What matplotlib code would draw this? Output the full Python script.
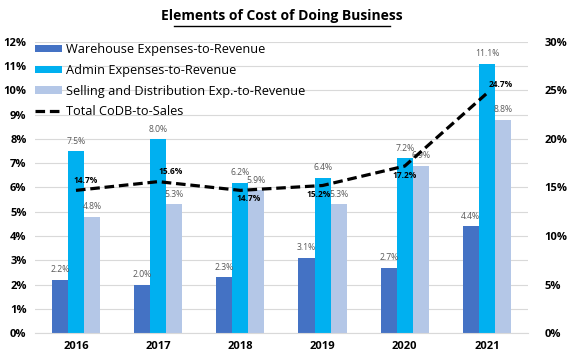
import numpy as np
import matplotlib
matplotlib.use('Agg')
import matplotlib.pyplot as plt
from matplotlib.ticker import FuncFormatter

plt.rcParams['font.family'] = ['Open Sans', 'DejaVu Sans']

# data
years = ['2016', '2017', '2018', '2019', '2020', '2021']
warehouse = [2.2, 2.0, 2.3, 3.1, 2.7, 4.4]
admin = [7.5, 8.0, 6.2, 6.4, 7.2, 11.1]
selling = [4.8, 5.3, 5.9, 5.3, 6.9, 8.8]
total = [14.7, 15.6, 14.7, 15.2, 17.2, 24.7]

fig = plt.figure(figsize=(5.72, 3.64), dpi=100)
ax = fig.add_axes([0.061, 0.085, 0.862, 0.80])
ax2 = ax.twinx()

x = np.arange(len(years))
w = 0.195
series = [(warehouse, '#4472C4', 'Warehouse Expenses-to-Revenue'),
          (admin, '#00B0F0', 'Admin Expenses-to-Revenue'),
          (selling, '#B4C7E7', 'Selling and Distribution Exp.-to-Revenue')]
handles = []
for i, (vals, col, lab) in enumerate(series):
    xs = x + (i - 1) * w
    handles.append(ax.bar(xs, vals, w, color=col, label=lab, zorder=2))
    for xx, v in zip(xs, vals):
        ax.text(xx, v + 0.22, f'{v:.1f}%', ha='center', va='bottom',
                fontsize=6.2, color='#595959')

ln, = ax2.plot(x, total, color='black', ls='--', lw=2.3, dashes=(3, 1.5), zorder=3,
               label='Total CoDB-to-Sales')
handles.append(ln)

# line label offsets (points)
offs = [(7, 7), (9, 7), (6, -5.5), (-3, -6.5), (0, -7), (10, 6)]
for xx, v, (dx, dy) in zip(x, total, offs):
    ax2.annotate(f'{v:.1f}%', (xx, v), xytext=(dx, dy), textcoords='offset points',
                 ha='center', va='center', fontsize=6, fontweight='bold', color='black',
                 zorder=5)

ax.set_xlim(-0.5, len(years) - 0.5)
ax.set_ylim(0, 12)
ax.set_yticks(np.arange(0, 13, 1))
ax.yaxis.set_major_formatter(FuncFormatter(lambda v, p: f'{v:.0f}%'))
ax2.set_ylim(0, 30)
ax2.set_yticks(np.arange(0, 31, 5))
ax2.yaxis.set_major_formatter(FuncFormatter(lambda v, p: f'{v:.0f}%'))
ax.set_xticks(x)
ax.set_xticklabels(years)

ax.grid(axis='y', color='#D9D9D9', lw=0.8, zorder=0)
ax.set_axisbelow(True)
for a in (ax, ax2):
    for s in a.spines.values():
        s.set_visible(False)
    a.tick_params(length=0, labelsize=8)
    for t in a.get_xticklabels() + a.get_yticklabels():
        t.set_fontweight('bold')
ax.spines['bottom'].set_visible(True)
ax.spines['bottom'].set_color('#D9D9D9')
ax.tick_params(axis='x', pad=6)
ax.tick_params(axis='y', pad=6)
ax2.tick_params(axis='y', pad=12)

ax2.legend(handles, [h.get_label() for h in handles], loc='upper left',
           bbox_to_anchor=(0.0, 0.995), frameon=False, fontsize=9.2,
           handlelength=2.1, handleheight=0.5, labelspacing=0.6, handletextpad=0.3,
           borderaxespad=0, borderpad=0)

fig.text(0.493, 0.955, 'Elements of Cost of Doing Business', ha='center', va='center',
         fontsize=10, fontweight='bold')
fig.add_artist(plt.Line2D([0.305, 0.682], [0.928, 0.928], color='black', lw=1))

fig.savefig('out.png', dpi=100)
